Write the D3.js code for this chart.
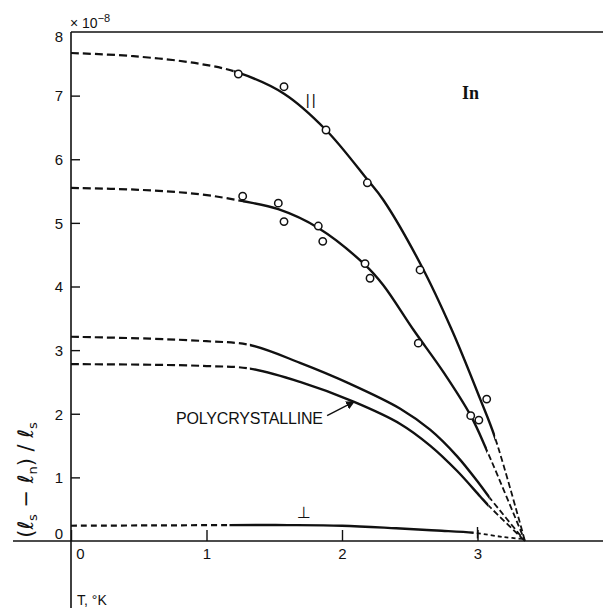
<!DOCTYPE html>
<html>
<head>
<meta charset="utf-8">
<script src="https://cdnjs.cloudflare.com/ajax/libs/d3/7.8.5/d3.min.js"></script>
<style>
body { margin: 0; background: #fff; }
text { font-family: "Liberation Sans", Arial, sans-serif; fill: #111; }
</style>
</head>
<body>
<script>
// T (K), (ls - ln)/ls in units of 1e-8
const xTicks = [0, 1, 2, 3]
const yTicks = [0, 1, 2, 3, 4, 5, 6, 7, 8]

// each curve: read points, plus the T range drawn solid (rest is dashed)
const parCurve = [[0, 7.67], [0.46, 7.62], [0.95, 7.5], [1.235, 7.36], [1.572, 7.03], [1.882, 6.46], [2.187, 5.68], [2.305, 5.36], [2.58, 4.35], [2.81, 3.32], [3.02, 2.23], [3.13, 1.62], [3.35, 0]]
const parSolid = [1.2, 3.13]
const parPoints = [[1.235, 7.34], [1.572, 7.14], [1.882, 6.46], [2.187, 5.63], [2.576, 4.26], [3.068, 2.23]]

const midCurve = [[0, 5.55], [0.5, 5.52], [0.95, 5.45], [1.27, 5.34], [1.53, 5.215], [1.825, 4.92], [2.17, 4.34], [2.305, 4.02], [2.527, 3.32], [2.75, 2.65], [2.95, 1.97], [3.07, 1.42], [3.35, 0]]
const midSolid = [1.27, 3.07]
const midPoints = [[1.267, 5.42], [1.53, 5.31], [1.572, 5.02], [1.825, 4.95], [1.858, 4.71], [2.17, 4.36], [2.207, 4.13], [2.563, 3.11], [2.95, 1.97], [3.01, 1.90]]

const polyACurve = [[0, 3.21], [0.584, 3.18], [1.0, 3.14], [1.32, 3.08], [1.69, 2.8], [2.06, 2.47], [2.43, 2.08], [2.65, 1.75], [2.85, 1.33], [3.02, 0.88], [3.09, 0.68], [3.35, 0]]
const polyASolid = [1.32, 3.09]
const polyBCurve = [[0, 2.78], [0.6, 2.77], [1.0, 2.75], [1.32, 2.71], [1.69, 2.5], [2.085, 2.19], [2.43, 1.84], [2.65, 1.5], [2.85, 1.1], [3.02, 0.7], [3.08, 0.56], [3.35, 0]]
const polyBSolid = [1.32, 3.08]

const perpCurve = [[0, 0.24], [0.6, 0.245], [1.17, 0.25], [1.6, 0.25], [2.0, 0.24], [2.4, 0.2], [2.7, 0.165], [2.97, 0.13], [3.2, 0.06], [3.35, 0.03]]
const perpSolid = [1.17, 2.97]
const perpBar = [3.0, 0.13, 0.09]

const w = 603
const h = 608

const svg = d3.select("body")
.append("svg")
.attr("width", w)
.attr("height", h)

const defs = svg.append("defs")

const xScale = d3.scaleLinear()
.domain([0, 3])
.range([71, 477.5])

const yScale = d3.scaleLinear()
.domain([0, 8])
.range([541, 32])

// frame lines: zero line, y axis, top border
svg.append("line")
.attr("x1", 13).attr("x2", w)
.attr("y1", yScale(0)).attr("y2", yScale(0))
.attr("stroke", "#111").attr("stroke-width", 1.6)

svg.append("line")
.attr("x1", xScale(0)).attr("x2", xScale(0))
.attr("y1", yScale(8)).attr("y2", h)
.attr("stroke", "#111").attr("stroke-width", 1.6)

svg.append("line")
.attr("x1", xScale(0)).attr("x2", w)
.attr("y1", yScale(8)).attr("y2", yScale(8))
.attr("stroke", "#111").attr("stroke-width", 1.6)

// axes with inward ticks
const xAxis = d3.axisBottom(xScale)
.tickValues(xTicks)
.tickFormat(d3.format("d"))
.tickSizeInner(-11)
.tickSizeOuter(0)
.tickPadding(7)

const gx = svg.append("g")
.attr("transform", "translate(0," + yScale(0) + ")")
.call(xAxis)
gx.select(".domain").remove()
gx.selectAll("line").attr("stroke", "#111").attr("stroke-width", 1.4)
gx.selectAll("text")
.style("font-size", "15px")
.attr("font-family", null)
.attr("dx", d => d === 0 ? 9 : 0)

const yAxis = d3.axisLeft(yScale)
.tickValues(yTicks)
.tickFormat(d3.format("d"))
.tickSizeInner(-9)
.tickSizeOuter(0)
.tickPadding(8)

const gy = svg.append("g")
.attr("transform", "translate(" + xScale(0) + ",0)")
.call(yAxis)
gy.select(".domain").remove()
gy.selectAll("line").attr("stroke", "#111").attr("stroke-width", 1.4)
gy.selectAll(".tick").filter(d => d === 0 || d === 8).select("line").remove()
gy.selectAll("text")
.style("font-size", "15px")
.attr("font-family", null)
.attr("dy", d => d === 0 ? "-0.2em" : d === 8 ? "0.65em" : "0.35em")

// curves: one smooth path, clipped into dashed / solid / dashed parts
const line = d3.line()
.x(d => xScale(d[0]))
.y(d => yScale(d[1]))
.curve(d3.curveCatmullRom.alpha(0.5))

const curves = [
    {pts: parCurve, solid: parSolid, lowDash: "8,4", highDash: "6,3"},
    {pts: midCurve, solid: midSolid, lowDash: "8,4", highDash: "6,3"},
    {pts: polyACurve, solid: polyASolid, lowDash: "8,4", highDash: "6,3"},
    {pts: polyBCurve, solid: polyBSolid, lowDash: "8,4", highDash: "6,3"},
    {pts: perpCurve, solid: perpSolid, lowDash: "6,4", highDash: "4,3"}
]

curves.forEach((c, i) => {
    const parts = [
        {x0: 0, x1: xScale(c.solid[0]), width: 2.2, dash: c.lowDash},
        {x0: xScale(c.solid[0]), x1: xScale(c.solid[1]), width: 2.4, dash: null},
        {x0: xScale(c.solid[1]), x1: w, width: 1.8, dash: c.highDash}
    ]
    parts.forEach((p, j) => {
        const id = "clip-" + i + "-" + j
        defs.append("clipPath")
        .attr("id", id)
        .append("rect")
        .attr("x", p.x0)
        .attr("y", 0)
        .attr("width", p.x1 - p.x0)
        .attr("height", h)

        svg.append("path")
        .attr("d", line(c.pts))
        .attr("clip-path", "url(#" + id + ")")
        .attr("fill", "none")
        .attr("stroke", "#111")
        .attr("stroke-width", p.width)
        .attr("stroke-dasharray", p.dash)
    })
})

// small error bar on the perpendicular curve
svg.append("line")
.attr("x1", xScale(perpBar[0])).attr("x2", xScale(perpBar[0]))
.attr("y1", yScale(perpBar[1] + perpBar[2])).attr("y2", yScale(perpBar[1] - perpBar[2]))
.attr("stroke", "#111").attr("stroke-width", 1.4)

// data points
svg.selectAll("circle")
.data(parPoints.concat(midPoints))
.enter()
.append("circle")
.attr("cx", d => xScale(d[0]))
.attr("cy", d => yScale(d[1]))
.attr("r", 3.7)
.attr("fill", "#fff")
.attr("stroke", "#111")
.attr("stroke-width", 1.5)

// labels
svg.append("text")
.attr("x", xScale(2.886))
.attr("y", yScale(6.95))
.style("font-family", "'Liberation Serif', serif")
.style("font-size", "18px")
.style("font-weight", "bold")
.text("In")

svg.append("text")
.attr("x", xScale(1.776))
.attr("y", yScale(6.86))
.attr("text-anchor", "middle")
.style("font-size", "15px")
.style("letter-spacing", "2px")
.text("||")

svg.append("text")
.attr("x", xScale(1.72))
.attr("y", yScale(0.36))
.attr("text-anchor", "middle")
.style("font-family", "'DejaVu Sans', sans-serif")
.style("font-size", "16px")
.text("⊥")

svg.append("text")
.attr("x", xScale(0.775))
.attr("y", yScale(1.84))
.attr("textLength", 147)
.style("font-size", "16px")
.text("POLYCRYSTALLINE")

// arrow to polycrystalline curve
defs.append("marker")
.attr("id", "arrow")
.attr("viewBox", "0 0 10 10")
.attr("refX", 9).attr("refY", 5)
.attr("markerWidth", 9).attr("markerHeight", 9)
.attr("markerUnits", "userSpaceOnUse")
.attr("orient", "auto")
.append("path")
.attr("d", "M0,0 L10,5 L0,10 z")
.attr("fill", "#111")

svg.append("line")
.attr("x1", xScale(1.89)).attr("y1", yScale(1.97))
.attr("x2", xScale(2.09)).attr("y2", yScale(2.19))
.attr("stroke", "#111")
.attr("stroke-width", 1.4)
.attr("marker-end", "url(#arrow)")

// multiplier
const mult = svg.append("text")
.attr("x", 70)
.attr("y", 28)
.style("font-size", "14px")
mult.append("tspan").text("× 10")
mult.append("tspan").attr("dy", -6).style("font-size", "11px").text("−8")

// x axis title
svg.append("text")
.attr("x", 77)
.attr("y", 605)
.style("font-size", "14px")
.text("T, °K")

// y axis title, rotated
const yTitle = svg.append("text")
.attr("transform", "translate(33,480) rotate(-90)")
.attr("text-anchor", "middle")
.style("font-family", "'DejaVu Sans', sans-serif")
.style("font-size", "21px")
yTitle.append("tspan").text("(ℓ")
yTitle.append("tspan").attr("dy", 4).style("font-size", "13px").text("s")
yTitle.append("tspan").attr("dy", -4).text(" − ℓ")
yTitle.append("tspan").attr("dy", 4).style("font-size", "13px").text("n")
yTitle.append("tspan").attr("dy", -4).text(") / ℓ")
yTitle.append("tspan").attr("dy", 4).style("font-size", "13px").text("s")
</script>
</body>
</html>
